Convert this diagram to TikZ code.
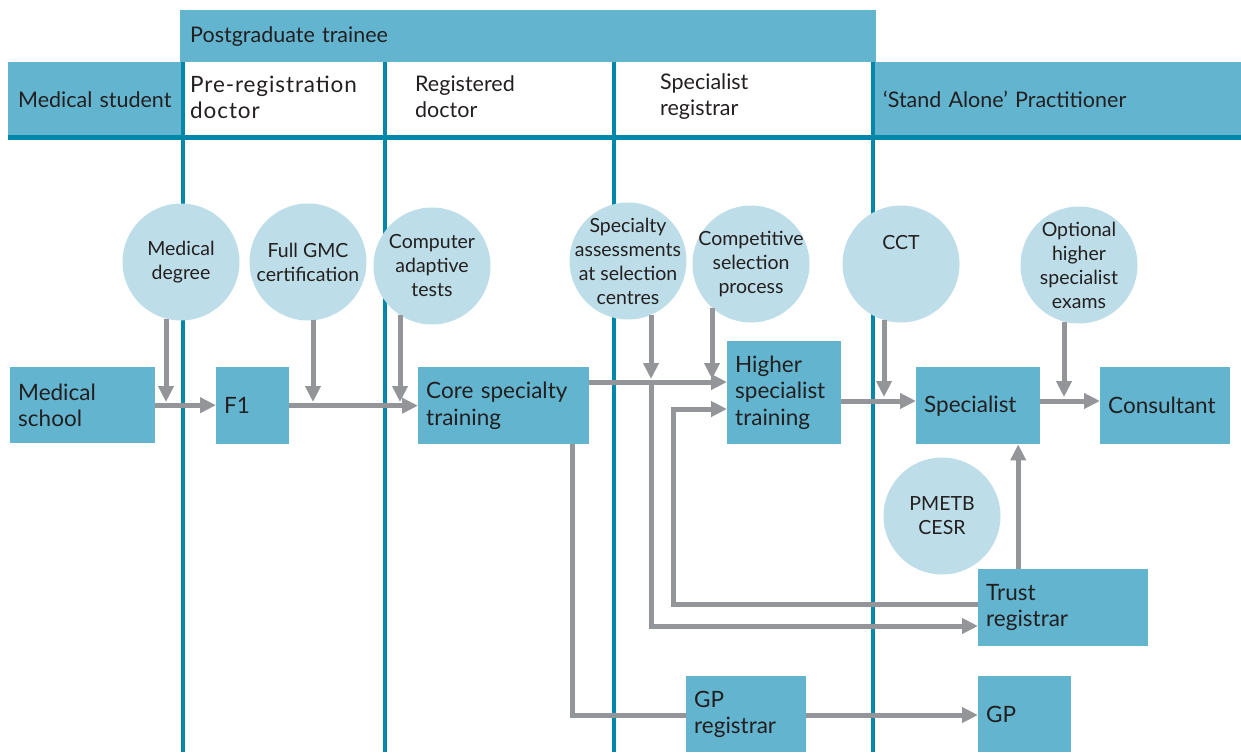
\documentclass[tikz,border=0pt]{standalone}
\usepackage{fontspec}
\setmainfont{Lato}
\usetikzlibrary{arrows.meta}
\definecolor{boxblue}{HTML}{62B4CF}
\definecolor{ringblue}{HTML}{BDDEE8}
\definecolor{lanecol}{HTML}{0087A9}
\definecolor{flowgrey}{HTML}{939598}
\definecolor{inkcol}{HTML}{231F20}
\begin{document}
\begin{tikzpicture}[x=1pt, y=-1pt,
    every node/.style={text=inkcol},
    band/.style={fill=boxblue, anchor=north west, inner xsep=10pt, inner ysep=0pt, align=left, font=\fontsize{21.5}{26}\selectfont},
    headtext/.style={anchor=west, align=left, inner sep=0pt, font=\fontsize{21.5}{26}\selectfont},
    stage/.style={fill=boxblue, anchor=north west, inner xsep=8pt, inner ysep=0pt, align=left, font=\fontsize{22.5}{26.5}\selectfont},
    hurdle/.style={circle, fill=ringblue, minimum size=117pt, inner sep=0pt},
    hurdletext/.style={align=center, inner sep=0pt, font=\fontsize{19.5}{24}\selectfont, text=inkcol},
    lane/.style={draw=lanecol, line width=4.5pt},
    flow/.style={draw=flowgrey, line width=5pt, -{Triangle[length=16pt, width=15pt]}},
    plain/.style={draw=flowgrey, line width=5pt}]
    \useasboundingbox (0,0) rectangle (1241,752);
    \node[band, text width=676pt, minimum height=52pt] (pgt) at (180,10) {Postgraduate trainee};
    \node[band, text width=154pt, minimum height=75pt] (student) at (8,62) {Medical student};
    \node[band, text width=348pt, minimum height=75pt] (alone) at (873,62) {`Stand Alone' Practitioner};
    \node[headtext, font=\fontsize{22.5}{26}\selectfont\addfontfeatures{LetterSpace=4}] (prereg) at (190,97) {Pre-registration\\doctor};
    \node[headtext] (regdoc) at (415,97) {Registered\\doctor};
    \node[headtext] (specreg) at (660,97) {Specialist\\registrar};
    \draw[draw=lanecol, line width=5pt] (8,137) -- (1241,137);
    \foreach \x in {183,385,614,873}
        \draw[lane] (\x,62) -- (\x,752);
    \node[hurdle, label={[hurdletext]center:Medical\\degree}] (degree) at (181,262) {};
    \node[hurdle, label={[hurdletext]center:Full GMC\\certification}] (gmc) at (308,262) {};
    \node[hurdle, label={[hurdletext]center:Computer\\adaptive\\tests}] (adaptive) at (432,266) {};
    \node[hurdle, label={[hurdletext]center:Specialty\\assessments\\at selection\\centres}] (assess) at (628,261) {};
    \node[hurdle, label={[hurdletext]center:Competitive\\selection\\process}] (compete) at (751,264) {};
    \node[hurdle, label={[hurdletext, yshift=21pt]center:CCT}] (cct) at (901,264) {};
    \node[hurdle, label={[hurdletext]center:Optional\\higher\\specialist\\exams}] (exams) at (1079,265) {};
    \node[hurdle, label={[hurdletext]center:PMETB\\CESR}] (cesr) at (942,516) {};
    \node[stage, text width=129pt, minimum height=76pt] (school) at (10,367) {Medical\\school};
    \node[stage, text width=57pt, minimum height=77pt] (f1) at (216,367) {F1};
    \node[stage, text width=155pt, minimum height=77pt] (core) at (418,367) {Core specialty\\training};
    \node[stage, text width=98pt, minimum height=103pt] (higher) at (727,341) {Higher\\specialist\\training};
    \node[stage, text width=108pt, minimum height=77pt] (specialist) at (916,367) {Specialist};
    \node[stage, text width=114pt, minimum height=77pt] (consultant) at (1100,367) {Consultant};
    \node[stage, text width=154pt, minimum height=77pt] (trust) at (978,569) {Trust\\registrar};
    \node[stage, text width=104pt, minimum height=76pt] (gpreg) at (686,676) {GP\\registrar};
    \node[stage, text width=77pt, minimum height=76pt] (gp) at (978,676) {GP};
    \coordinate (din) at (166,402);
    \coordinate (gin) at (313,402);
    \coordinate (ain) at (400,402);
    \coordinate (asin) at (651,379);
    \coordinate (cpin) at (712,379);
    \coordinate (cctin) at (884,397);
    \coordinate (exin) at (1064,397);
    \coordinate (fork) at (651,382);
    \coordinate (lowjoin) at (651,626);
    \coordinate (backup) at (673,604);
    \coordinate (backin) at (673,409);
    \coordinate (sprow) at (1070,401);
    \coordinate (gpturn) at (572,715);
    \draw[flow] (din |- degree.255) -- (din);
    \draw[flow] (gin |- gmc.275) -- (gin);
    \draw[flow] (ain |- adaptive.237) -- (ain);
    \draw[flow] (asin |- assess.293) -- (asin);
    \draw[flow] (cpin |- compete.228) -- (cpin);
    \draw[flow] (cctin |- cct.253) -- (cctin);
    \draw[flow] (exin |- exams.255) -- (exin);
    \draw[flow] (school.east) -- (school.east -| f1.west);
    \draw[flow] (f1.east) -- (f1.east -| core.west);
    \draw[flow] (core.east |- fork) -- (higher.west |- fork);
    \draw[flow] (fork) -- (lowjoin) -- (trust.west |- lowjoin);
    \draw[flow] (trust.west |- backup) -- (backup) -- (backin) -- (higher.west |- backin);
    \draw[flow] (higher.east |- sprow) -- (specialist.west |- sprow);
    \draw[flow] (specialist.east |- sprow) -- (consultant.west |- sprow);
    \draw[flow] ([xshift=-45pt]trust.north) -- ([xshift=-45pt]trust.north |- specialist.south);
    \draw[plain] (core.south -| gpturn) -- (gpturn) -- (gpreg.west |- gpturn);
    \draw[flow] (gpreg.east |- gpturn) -- (gp.west |- gpturn);
\end{tikzpicture}
\end{document}
